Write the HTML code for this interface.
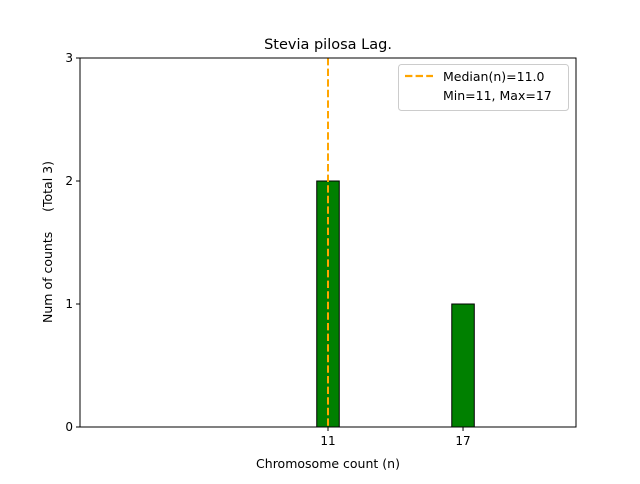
<!DOCTYPE html>
<html><head><meta charset="utf-8"><style>
body{margin:0;background:#fff;font-family:"DejaVu Sans","Liberation Sans",sans-serif;}
svg text{font-family:"DejaVu Sans","Liberation Sans",sans-serif;}
</style></head><body>
<svg id="c" width="640" height="480" xmlns="http://www.w3.org/2000/svg">
<rect width="640" height="480" fill="#fff"/>
<defs><clipPath id="pa"><rect x="80" y="58" width="496" height="369"/></clipPath></defs>
<g id="bars" clip-path="url(#pa)"></g>
<g id="axes"></g>
</svg>
<script>
const categories = [11, 17];
const counts = [2, 1];
const binStart = 0, binEnd = 20;
const median = 11.0;
const yTicks = [0, 1, 2, 3];
const xTicks = [11, 17];
const xMin = -0.02, xMax = 22.02, yMin = 0, yMax = 3;
const L = 80, R = 576, T = 58, B = 427;
const NS = "http://www.w3.org/2000/svg";
const px = v => L + (v - xMin) / (xMax - xMin) * (R - L);
const py = v => B - (v - yMin) / (yMax - yMin) * (B - T);
function mk(tag, attrs, parent, txt) {
  const e = document.createElementNS(NS, tag);
  for (const k in attrs) e.setAttribute(k, attrs[k]);
  if (txt !== undefined) e.textContent = txt;
  parent.appendChild(e); return e;
}
const bars = document.getElementById('bars'), axes = document.getElementById('axes');
const base = mk('line', {x1: px(binStart - 0.5), x2: px(binEnd + 0.5), y1: py(0), y2: py(0), stroke: '#000', 'stroke-width': 1}, bars);


categories.forEach((c, i) => {
  const r = mk('rect', {x: px(c - 0.5), y: py(counts[i]), width: px(c + 0.5) - px(c - 0.5), height: py(0) - py(counts[i]), fill: '#008000', stroke: '#000', 'stroke-width': 1}, bars);
  
  
});
const ml = mk('line', {x1: px(median), x2: px(median), y1: py(yMax), y2: py(0), stroke: 'orange', 'stroke-width': 2, 'stroke-dasharray': '7.4,3.2'}, bars);


const fr = mk('rect', {x: L, y: T, width: R - L, height: B - T, fill: 'none', stroke: '#000', 'stroke-width': 1}, axes);


yTicks.forEach(t => {
  mk('line', {x1: L - 4, x2: L, y1: py(t), y2: py(t), stroke: '#000'}, axes);
  const tx = mk('text', {x: L - 7, y: py(t) + 4, 'text-anchor': 'end', 'font-size': 12}, axes, t);
  
  
});
xTicks.forEach(t => {
  mk('line', {x1: px(t), x2: px(t), y1: B, y2: B + 4, stroke: '#000'}, axes);
  const tx = mk('text', {x: px(t), y: B + 18, 'text-anchor': 'middle', 'font-size': 12}, axes, t);
  
  
});
</script>
<svg width="640" height="480" style="position:absolute;left:0;top:0" xmlns="http://www.w3.org/2000/svg">
<text x="328" y="49" text-anchor="middle" font-size="14.5">Stevia pilosa Lag.</text>
<text x="328" y="468" text-anchor="middle" font-size="12.5">Chromosome count (n)</text>
<text transform="translate(52,242) rotate(-90)" text-anchor="middle" font-size="12.5" style="white-space:pre" xml:space="preserve">Num of counts     (Total 3)</text>
<g>
<rect x="398.5" y="64.5" width="170" height="46" rx="3" fill="#fff" fill-opacity="0.8" stroke="#ccc"/>
<line x1="405" x2="433" y1="76" y2="76" stroke="orange" stroke-width="2.2" stroke-dasharray="7.4,3.2"/>
<text x="443" y="81" font-size="12.5">Median(n)=11.0</text>
<text x="443" y="100" font-size="12.5">Min=11, Max=17</text>
</g>
</svg>
</body></html>
